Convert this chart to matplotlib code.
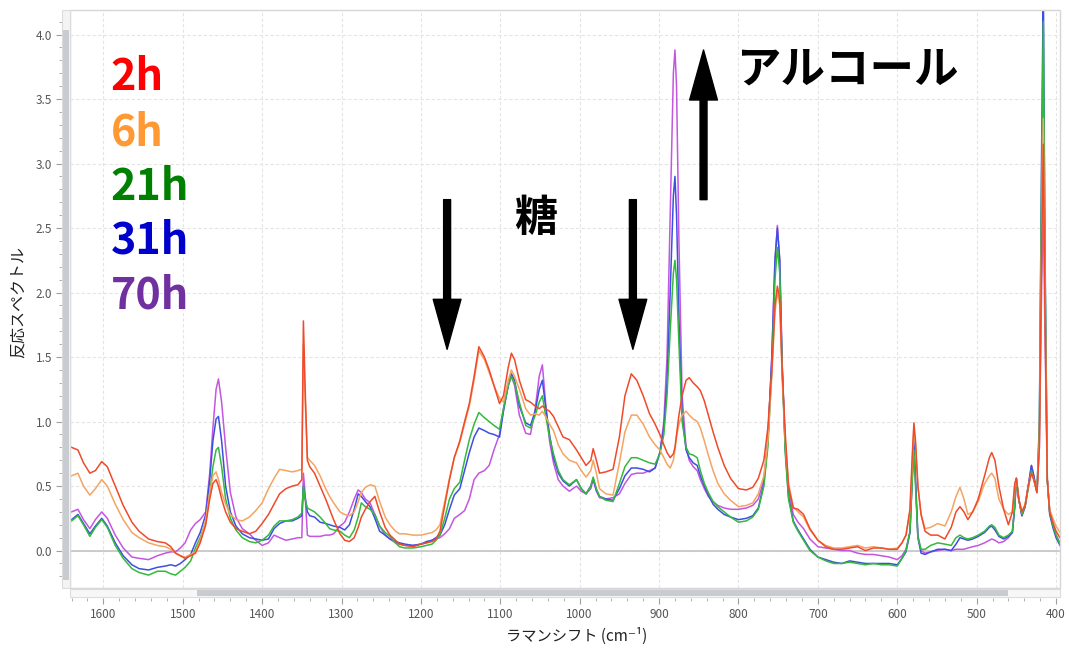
import matplotlib
matplotlib.use("Agg")
import matplotlib.pyplot as plt
from matplotlib.patches import Rectangle
from matplotlib.ticker import MultipleLocator, FormatStrFormatter

plt.rcParams['font.family'] = ['Noto Sans CJK JP', 'DejaVu Sans']

# Raman shift (cm-1)
wavenumber = [
    1640, 1632, 1625, 1617, 1610, 1602, 1595, 1585, 1575, 1564, 1555, 1543, 1532, 1522, 1515, 1509, 1503, 1497,
    1490, 1484, 1478, 1471, 1466, 1462, 1458, 1455, 1451, 1446, 1440, 1433, 1425, 1416, 1408, 1400,
    1392, 1385, 1378, 1370, 1362, 1355, 1350, 1348, 1346, 1343, 1340,
    1334, 1327, 1320, 1315, 1310, 1302, 1296, 1290, 1284, 1279, 1275, 1270, 1264, 1258, 1252, 1245, 1239, 1232, 1227, 1220, 1210, 1200, 1193, 1186, 1181,
    1176, 1170, 1164, 1158, 1151, 1145, 1139, 1133, 1127, 1120, 1114, 1108, 1101,
    1096, 1090, 1086, 1082, 1076, 1068, 1062, 1056, 1051, 1047, 1043, 1038, 1033, 1027, 1021, 1013, 1004,
    998, 992, 986, 983, 979, 975, 967, 958, 950, 943, 935, 928, 920, 912, 905, 899,
    894, 890, 886, 882, 880, 878, 875, 871, 866, 862, 857, 852, 848, 843, 838,
    832, 826, 818, 810, 800, 790, 782, 775, 768, 763, 758, 754, 751, 748, 745, 741,
    737, 731, 725, 718, 710, 700, 690, 680, 670, 660, 650, 640, 630, 620, 610, 600,
    594, 589, 584, 581, 579, 577, 574, 570, 565, 558, 549, 540,
    532, 526, 521, 516, 511, 505, 498, 490, 484, 481, 477, 472, 466, 460, 455, 452, 450, 447, 443, 439, 435, 431, 428, 424, 421, 418, 416, 414, 411, 408, 404, 400, 395,
]

spec_2h = [
    0.80, 0.78, 0.68, 0.60, 0.62, 0.69, 0.65, 0.50, 0.35, 0.22, 0.15, 0.09, 0.07, 0.06, 0.03, -0.02, -0.04, -0.06,
    -0.04, -0.02, 0.06, 0.20, 0.40, 0.52, 0.55, 0.50, 0.40, 0.30, 0.22, 0.17, 0.15, 0.13, 0.15, 0.21,
    0.28, 0.36, 0.44, 0.48, 0.50, 0.51, 0.55, 1.78, 1.30, 0.70, 0.65,
    0.60, 0.50, 0.40, 0.32, 0.24, 0.13, 0.08, 0.07, 0.10, 0.18, 0.26, 0.32, 0.38, 0.42, 0.30, 0.18, 0.12, 0.08, 0.05, 0.04, 0.03, 0.05, 0.06, 0.07, 0.09,
    0.15, 0.35, 0.55, 0.72, 0.85, 1.00, 1.14, 1.35, 1.58, 1.50, 1.40, 1.28, 1.14,
    1.20, 1.42, 1.53, 1.48, 1.32, 1.17, 1.15, 1.12, 1.10, 1.12, 1.10, 1.08, 1.04, 0.96, 0.88, 0.86, 0.78,
    0.72, 0.66, 0.70, 0.79, 0.70, 0.60, 0.61, 0.63, 0.88, 1.20, 1.37, 1.32, 1.20, 1.06, 0.98, 0.90,
    0.82, 0.76, 0.72, 0.75, 0.80, 0.90, 1.05, 1.20, 1.32, 1.34, 1.30, 1.27, 1.24, 1.16, 1.05,
    0.92, 0.80, 0.66, 0.56, 0.48, 0.47, 0.49, 0.56, 0.70, 0.95, 1.40, 1.90, 2.05, 1.95, 1.40, 0.90,
    0.50, 0.33, 0.32, 0.28, 0.17, 0.08, 0.03, 0.01, 0.01, 0.02, 0.03, 0.00, 0.02, 0.02, 0.01, 0.01,
    0.06, 0.12, 0.32, 0.75, 0.99, 0.85, 0.50, 0.28, 0.15, 0.12, 0.12, 0.09,
    0.18, 0.30, 0.34, 0.30, 0.24, 0.30, 0.40, 0.58, 0.72, 0.76, 0.70, 0.50, 0.32, 0.20, 0.30, 0.52, 0.56, 0.40, 0.30, 0.35, 0.50, 0.60, 0.55, 0.45, 0.80, 2.40, 3.15, 1.90, 0.55, 0.30, 0.22, 0.15, 0.10,
]

spec_6h = [
    0.58, 0.60, 0.50, 0.43, 0.48, 0.55, 0.50, 0.36, 0.24, 0.14, 0.10, 0.06, 0.04, 0.03, 0.01, -0.02, -0.04, -0.05,
    -0.03, -0.01, 0.08, 0.24, 0.45, 0.58, 0.61, 0.55, 0.45, 0.36, 0.28, 0.24, 0.23, 0.26, 0.31, 0.37,
    0.48, 0.56, 0.63, 0.62, 0.61, 0.62, 0.63, 1.60, 1.20, 0.72, 0.70,
    0.66, 0.58, 0.48, 0.42, 0.37, 0.30, 0.28, 0.27, 0.30, 0.38, 0.45, 0.49, 0.51, 0.50, 0.38, 0.26, 0.20, 0.15, 0.13, 0.13, 0.12, 0.12, 0.13, 0.14, 0.16,
    0.20, 0.38, 0.56, 0.72, 0.84, 0.98, 1.12, 1.32, 1.55, 1.48, 1.38, 1.28, 1.18,
    1.15, 1.32, 1.40, 1.35, 1.25, 1.10, 1.05, 1.06, 1.05, 1.08, 1.04, 0.98, 0.93, 0.82, 0.75, 0.70, 0.68,
    0.62, 0.57, 0.62, 0.70, 0.60, 0.48, 0.44, 0.43, 0.68, 0.92, 1.05, 1.05, 0.98, 0.88, 0.82, 0.78,
    0.72, 0.67, 0.64, 0.70, 0.78, 0.88, 0.98, 1.05, 1.08, 1.05, 1.02, 1.00, 0.95, 0.85, 0.74,
    0.62, 0.52, 0.44, 0.39, 0.34, 0.35, 0.37, 0.44, 0.58, 0.85, 1.35, 1.85, 2.00, 1.90, 1.35, 0.85,
    0.52, 0.34, 0.30, 0.26, 0.16, 0.08, 0.04, 0.02, 0.02, 0.03, 0.04, 0.02, 0.03, 0.02, 0.01, 0.02,
    0.06, 0.12, 0.30, 0.70, 0.95, 0.82, 0.50, 0.28, 0.17, 0.18, 0.21, 0.19,
    0.30, 0.42, 0.49, 0.40, 0.28, 0.30, 0.38, 0.52, 0.58, 0.60, 0.56, 0.40, 0.32, 0.28, 0.30, 0.50, 0.56, 0.40, 0.30, 0.36, 0.50, 0.60, 0.55, 0.45, 0.85, 2.55, 3.35, 2.00, 0.55, 0.32, 0.25, 0.19, 0.14,
]

spec_21h = [
    0.23, 0.27, 0.20, 0.11, 0.18, 0.24, 0.18, 0.04, -0.06, -0.14, -0.17, -0.19, -0.16, -0.16, -0.18, -0.19, -0.16, -0.13,
    -0.08, 0.02, 0.10, 0.22, 0.45, 0.65, 0.78, 0.80, 0.65, 0.40, 0.25, 0.16, 0.10, 0.07, 0.06, 0.08,
    0.12, 0.19, 0.23, 0.23, 0.24, 0.26, 0.29, 0.50, 0.40, 0.33, 0.32,
    0.30, 0.26, 0.21, 0.17, 0.16, 0.15, 0.12, 0.10, 0.16, 0.26, 0.37, 0.34, 0.32, 0.28, 0.19, 0.14, 0.11, 0.06, 0.03, 0.02, 0.02, 0.03, 0.04, 0.05, 0.08,
    0.12, 0.25, 0.40, 0.48, 0.53, 0.70, 0.86, 0.98, 1.07, 1.03, 1.00, 0.97, 0.94,
    1.10, 1.28, 1.35, 1.30, 1.15, 0.97, 0.95, 1.05, 1.15, 1.20, 1.05, 0.88, 0.75, 0.62, 0.55, 0.51, 0.55,
    0.48, 0.44, 0.50, 0.57, 0.48, 0.42, 0.39, 0.38, 0.52, 0.65, 0.72, 0.72, 0.70, 0.68, 0.67, 0.75,
    0.90, 1.20, 1.70, 2.15, 2.25, 2.10, 1.60, 1.00, 0.80, 0.75, 0.74, 0.72, 0.62, 0.52, 0.45,
    0.38, 0.34, 0.30, 0.26, 0.22, 0.23, 0.26, 0.32, 0.50, 0.80, 1.40, 2.10, 2.35, 2.15, 1.40, 0.75,
    0.40, 0.22, 0.15, 0.08, 0.00, -0.05, -0.08, -0.10, -0.10, -0.09, -0.10, -0.11, -0.10, -0.11, -0.11, -0.12,
    -0.06, 0.00, 0.15, 0.55, 0.78, 0.50, 0.10, 0.01, 0.01, 0.04, 0.06, 0.05,
    0.04, 0.10, 0.12, 0.10, 0.09, 0.10, 0.12, 0.15, 0.19, 0.20, 0.18, 0.12, 0.10, 0.12, 0.15, 0.35, 0.56, 0.40, 0.28, 0.34, 0.48, 0.62, 0.55, 0.45, 0.95, 3.00, 4.10, 2.30, 0.55, 0.30, 0.20, 0.12, 0.05,
]

spec_31h = [
    0.24, 0.28, 0.21, 0.13, 0.19, 0.25, 0.19, 0.06, -0.04, -0.11, -0.14, -0.15, -0.13, -0.12, -0.11, -0.12, -0.10, -0.07,
    -0.03, 0.06, 0.14, 0.28, 0.55, 0.85, 1.02, 1.04, 0.85, 0.50, 0.30, 0.19, 0.13, 0.10, 0.09, 0.08,
    0.09, 0.17, 0.21, 0.23, 0.23, 0.25, 0.27, 0.50, 0.42, 0.30, 0.27,
    0.26, 0.22, 0.21, 0.20, 0.19, 0.18, 0.16, 0.20, 0.32, 0.44, 0.42, 0.38, 0.34, 0.25, 0.15, 0.12, 0.09, 0.07, 0.06, 0.05, 0.04, 0.05, 0.07, 0.08, 0.10,
    0.12, 0.20, 0.32, 0.43, 0.48, 0.62, 0.76, 0.88, 0.95, 0.93, 0.91, 0.90, 0.88,
    1.08, 1.28, 1.37, 1.32, 1.12, 0.99, 0.97, 1.08, 1.25, 1.32, 1.12, 0.90, 0.72, 0.60, 0.54, 0.50, 0.55,
    0.48, 0.44, 0.50, 0.56, 0.47, 0.42, 0.40, 0.39, 0.48, 0.58, 0.64, 0.64, 0.63, 0.61, 0.64, 0.76,
    0.95, 1.30, 2.00, 2.75, 2.90, 2.60, 1.80, 1.05, 0.78, 0.72, 0.68, 0.66, 0.58, 0.50, 0.43,
    0.36, 0.32, 0.28, 0.26, 0.24, 0.25, 0.27, 0.33, 0.52, 0.85, 1.50, 2.25, 2.50, 2.25, 1.45, 0.78,
    0.42, 0.23, 0.16, 0.09, 0.01, -0.05, -0.07, -0.09, -0.10, -0.08, -0.09, -0.10, -0.10, -0.10, -0.10, -0.11,
    -0.06, -0.01, 0.14, 0.60, 0.85, 0.55, 0.10, -0.02, -0.03, -0.01, 0.01, 0.01,
    0.00, 0.05, 0.10, 0.09, 0.08, 0.09, 0.11, 0.14, 0.18, 0.19, 0.16, 0.11, 0.09, 0.11, 0.14, 0.34, 0.56, 0.40, 0.27, 0.34, 0.50, 0.66, 0.58, 0.45, 1.00, 3.20, 4.40, 2.40, 0.55, 0.28, 0.18, 0.10, 0.04,
]

spec_70h = [
    0.30, 0.32, 0.24, 0.17, 0.24, 0.30, 0.25, 0.12, 0.02, -0.05, -0.06, -0.07, -0.04, -0.02, -0.01, -0.01, 0.02, 0.06,
    0.16, 0.21, 0.24, 0.30, 0.60, 0.95, 1.25, 1.33, 1.15, 0.80, 0.45, 0.26, 0.17, 0.13, 0.08, 0.04,
    0.06, 0.12, 0.10, 0.08, 0.09, 0.10, 0.10, 0.60, 0.45, 0.12, 0.11,
    0.11, 0.11, 0.12, 0.12, 0.13, 0.19, 0.22, 0.30, 0.40, 0.47, 0.45, 0.40, 0.37, 0.28, 0.19, 0.12, 0.09, 0.06, 0.05, 0.04, 0.04, 0.05, 0.06, 0.08, 0.09,
    0.10, 0.13, 0.17, 0.25, 0.28, 0.31, 0.40, 0.55, 0.60, 0.62, 0.66, 0.78, 0.90,
    1.10, 1.28, 1.35, 1.28, 1.05, 0.91, 0.90, 1.10, 1.35, 1.44, 1.15, 0.85, 0.68, 0.55, 0.50, 0.46, 0.50,
    0.46, 0.44, 0.48, 0.55, 0.46, 0.41, 0.40, 0.41, 0.44, 0.52, 0.59, 0.60, 0.60, 0.62, 0.64, 0.76,
    1.00, 1.50, 2.60, 3.70, 3.88, 3.60, 2.40, 1.20, 0.80, 0.70, 0.65, 0.62, 0.55, 0.48, 0.42,
    0.38, 0.35, 0.33, 0.32, 0.32, 0.33, 0.35, 0.40, 0.55, 0.85, 1.50, 2.25, 2.52, 2.25, 1.45, 0.80,
    0.48, 0.28, 0.22, 0.17, 0.09, 0.03, 0.02, 0.01, 0.00, 0.00, -0.02, -0.03, -0.03, -0.04, -0.05, -0.07,
    -0.04, 0.01, 0.14, 0.58, 0.80, 0.55, 0.12, 0.00, -0.02, -0.01, 0.00, 0.01,
    0.00, 0.01, 0.01, 0.01, 0.02, 0.03, 0.04, 0.06, 0.08, 0.09, 0.08, 0.06, 0.07, 0.10, 0.14, 0.34, 0.56, 0.40, 0.27, 0.34, 0.50, 0.66, 0.58, 0.45, 0.80, 2.10, 2.70, 1.70, 0.55, 0.30, 0.20, 0.12, 0.06,
]

labels = ['2h', '6h', '21h', '31h', '70h']
spectra = [spec_2h, spec_6h, spec_21h, spec_31h, spec_70h]
line_colors = ['#ef4a2a', '#f4a463', '#34b93c', '#3d4fe2', '#c456e0']
label_colors = ['#ff0000', '#ff9933', '#008000', '#0000cc', '#7030a0']
label_y = [3.67, 3.24, 2.82, 2.40, 1.98]

W, H = 1069, 648
fig = plt.figure(figsize=(W / 100, H / 100), dpi=100)
ax = fig.add_axes([70 / W, 1 - 588 / H, 990 / W, 578 / H])

# draw the later samples first, 2h ends up on top
for spec, c in reversed(list(zip(spectra, line_colors))):
    ax.plot(wavenumber, spec, color=c, lw=1.1)

ax.set_xlim(1642, 395)
ax.set_ylim(-0.29, 4.19)
ax.xaxis.set_major_locator(MultipleLocator(100))
ax.xaxis.set_minor_locator(MultipleLocator(20))
ax.yaxis.set_major_locator(MultipleLocator(0.5))
ax.yaxis.set_minor_locator(MultipleLocator(0.1))
ax.yaxis.set_major_formatter(FormatStrFormatter('%.1f'))
ax.grid(True, which='major', color='#e4e4e4', lw=0.8, ls=(0, (3, 2)))
ax.set_axisbelow(True)
ax.axhline(0, color='#c4c4c4', lw=1.2, zorder=1)

for s in ax.spines.values():
    s.set_visible(False)
ax.spines['left'].set_position(('outward', 6))
ax.spines['bottom'].set_position(('outward', 7.5))
ax.tick_params(which='both', direction='out', color='#a0a0a0', labelcolor='#555555', labelsize=8.5)
ax.tick_params(which='major', length=4, pad=3)
ax.tick_params(which='minor', length=2.2)
ax.add_patch(Rectangle((0, 0), 1, 1, transform=ax.transAxes, fill=False,
                       ec='#d6d6d6', lw=1, clip_on=False, zorder=5))

# scrollbars of the viewer window
def fig_rect(x0, y0, x1, y1, **kw):
    fig.add_artist(Rectangle((x0 / W, 1 - y1 / H), (x1 - x0) / W, (y1 - y0) / H,
                             transform=fig.transFigure, **kw))

fig_rect(62, 10, 70, 588, fc='#f4f4f4', ec='#dcdcdc', lw=0.8)
fig_rect(63, 30, 69, 580, fc='#c8ccd1', ec='none')
fig_rect(70, 589, 1060, 597, fc='#f7f7f7', ec='#dcdcdc', lw=0.8)
fig_rect(197, 590, 1008, 596, fc='#c8ccd1', ec='none')

# sample labels
for lab, c, y in zip(labels, label_colors, label_y):
    ax.text(1591, y, lab, color=c, fontsize=31, fontweight='bold', ha='left', va='center')

# arrows: sugar going down, alcohol going up
arrow_style = dict(arrowstyle='simple,head_length=3.6,head_width=2.0,tail_width=0.5',
                   mutation_scale=10, color='black', shrinkA=0, shrinkB=0)
ax.annotate('', xy=(1167, 1.56), xytext=(1167, 2.72), arrowprops=arrow_style)
ax.annotate('', xy=(933, 1.56), xytext=(933, 2.72), arrowprops=arrow_style)
ax.annotate('', xy=(844, 3.88), xytext=(844, 2.72), arrowprops=arrow_style)
ax.text(1055, 2.58, '糖', fontsize=31, fontweight='bold', ha='center', va='center')
ax.text(803, 3.73, 'アルコール', fontsize=32, fontweight='bold', ha='left', va='center')

fig.text(18 / W, 1 - 302 / H, '反応スペクトル', rotation=90, fontsize=11.5,
         ha='center', va='center', color='#222222')
fig.text(577 / W, 1 - 636 / H, 'ラマンシフト (cm⁻¹)', fontsize=11,
         ha='center', va='center', color='#222222')

fig.savefig('out.png', dpi=100)
